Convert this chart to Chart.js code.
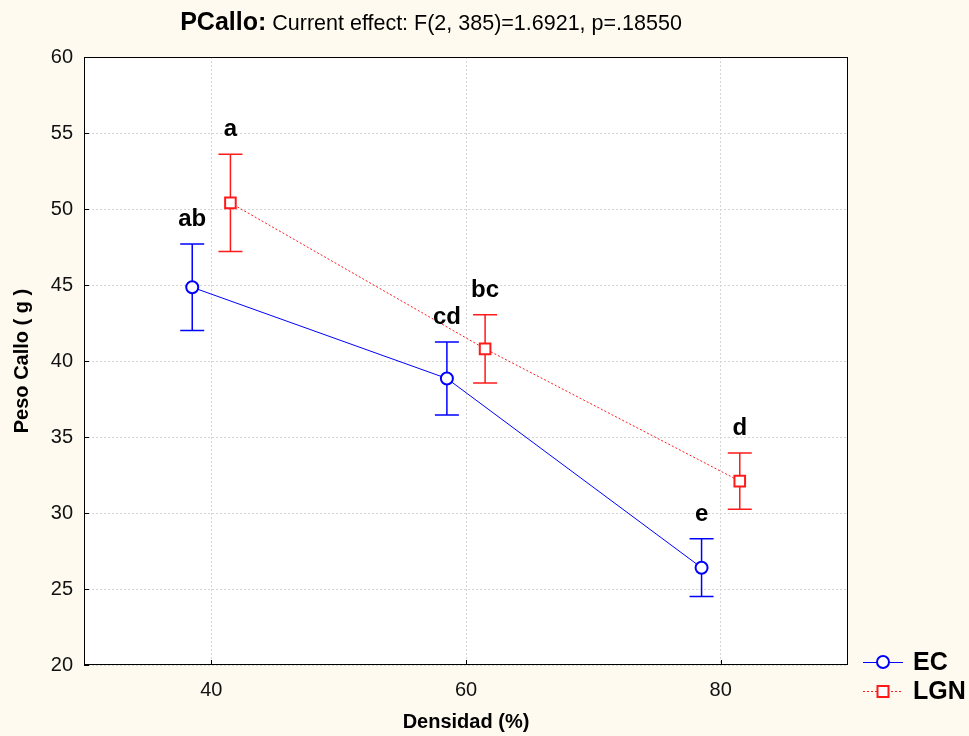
<!DOCTYPE html>
<html>
<head>
<meta charset="utf-8">
<title>PCallo</title>
<script src="https://cdn.jsdelivr.net/npm/chart.js@4.4.1/dist/chart.umd.min.js"></script>
<style>
  html, body { margin: 0; padding: 0; background: #fffaf0; }
  #wrap { width: 969px; height: 736px; }
</style>
</head>
<body>
<div id="wrap"><canvas id="chart" width="969" height="736"></canvas></div>
<script>
// Peso de callo por densidad, medias con barras de error
const densidad = [40, 60, 80];
const xTicks = [40, 60, 80];
const yTicks = [20, 25, 30, 35, 40, 45, 50, 55, 60];

const ecMean = [44.85, 38.85, 26.4];
const ecErr = [2.85, 2.4, 1.9];
const ecLetters = ['ab', 'cd', 'e'];

const lgnMean = [50.4, 40.8, 32.1];
const lgnErr = [3.2, 2.25, 1.85];
const lgnLetters = ['a', 'bc', 'd'];

const BG = '#fffaf0';
const BLUE = '#0000ff';
const RED = '#ff1a1a';
const SHIFT = 1.5; // horizontal separation of the two groups

const series = [
  { label: 'EC', mean: ecMean, err: ecErr, letters: ecLetters, color: BLUE, shift: -SHIFT },
  { label: 'LGN', mean: lgnMean, err: lgnErr, letters: lgnLetters, color: RED, shift: SHIFT }
];

const decor = {
  id: 'decor',
  beforeDraw(chart) {
    const { ctx, chartArea: a } = chart;
    ctx.save();
    ctx.fillStyle = BG;
    ctx.fillRect(0, 0, chart.width, chart.height);
    ctx.fillStyle = '#ffffff';
    ctx.fillRect(a.left, a.top, a.right - a.left, a.bottom - a.top);
    ctx.restore();
  },
  beforeDatasetsDraw(chart) {
    // error bars under the markers
    const { ctx, scales: { x, y } } = chart;
    ctx.save();
    ctx.lineWidth = 1.5;
    series.forEach(s => {
      ctx.strokeStyle = s.color;
      densidad.forEach((d, i) => {
        const px = x.getPixelForValue(d + s.shift);
        const top = y.getPixelForValue(s.mean[i] + s.err[i]);
        const bot = y.getPixelForValue(s.mean[i] - s.err[i]);
        ctx.beginPath();
        ctx.moveTo(px, top); ctx.lineTo(px, bot);
        ctx.moveTo(px - 12, top); ctx.lineTo(px + 12, top);
        ctx.moveTo(px - 12, bot); ctx.lineTo(px + 12, bot);
        ctx.stroke();
      });
    });
    ctx.restore();
  },
  afterDraw(chart) {
    const { ctx, chartArea: a, scales: { x, y } } = chart;
    ctx.save();

    // letters over each bar
    ctx.fillStyle = '#000';
    ctx.font = 'bold 24px "Liberation Sans", Arial, sans-serif';
    ctx.textAlign = 'center';
    ctx.textBaseline = 'alphabetic';
    series.forEach(s => {
      densidad.forEach((d, i) => {
        const px = x.getPixelForValue(d + s.shift);
        const top = y.getPixelForValue(s.mean[i] + s.err[i]);
        ctx.fillText(s.letters[i], px, top - 18);
      });
    });

    // frame and inner ticks
    ctx.strokeStyle = '#000';
    ctx.lineWidth = 1;
    ctx.strokeRect(a.left + 0.5, a.top + 0.5, a.right - a.left - 1, a.bottom - a.top - 1);
    ctx.beginPath();
    xTicks.forEach(v => {
      const px = Math.round(x.getPixelForValue(v)) + 0.5;
      ctx.moveTo(px, a.bottom); ctx.lineTo(px, a.bottom - 5);
    });
    yTicks.forEach(v => {
      const py = Math.round(y.getPixelForValue(v)) + 0.5;
      ctx.moveTo(a.left, py); ctx.lineTo(a.left + 5, py);
    });
    ctx.stroke();

    // title
    const head = 'PCallo:';
    const rest = ' Current effect: F(2, 385)=1.6921, p=.18550';
    ctx.textAlign = 'left';
    ctx.font = 'bold 25px "Liberation Sans", Arial, sans-serif';
    const w1 = ctx.measureText(head).width;
    ctx.font = '21.5px "Liberation Sans", Arial, sans-serif';
    const w2 = ctx.measureText(rest).width;
    const tx = 431 - (w1 + w2) / 2;
    ctx.font = 'bold 25px "Liberation Sans", Arial, sans-serif';
    ctx.fillText(head, tx, 30);
    ctx.font = '21.5px "Liberation Sans", Arial, sans-serif';
    ctx.fillText(rest, tx + w1, 30);

    // legend
    const lx = 863, rows = [662, 691];
    chart.data.datasets.forEach((ds, i) => {
      const ly = rows[i];
      ctx.strokeStyle = ds.borderColor;
      ctx.lineWidth = 1;
      ctx.setLineDash(ds.borderDash || []);
      ctx.beginPath();
      ctx.moveTo(lx, ly + 0.5); ctx.lineTo(lx + 40, ly + 0.5);
      ctx.stroke();
      ctx.setLineDash([]);
      ctx.fillStyle = '#fff';
      ctx.lineWidth = 2;
      ctx.beginPath();
      if (ds.pointStyle === 'rect') {
        ctx.rect(lx + 20 - 5.5, ly - 5, 11, 11);
      } else {
        ctx.arc(lx + 20, ly, 6, 0, Math.PI * 2);
      }
      ctx.fill();
      ctx.stroke();
      ctx.fillStyle = '#000';
      ctx.font = 'bold 25px "Liberation Sans", Arial, sans-serif';
      ctx.textBaseline = 'middle';
      ctx.fillText(ds.label, 913, ly + 1);
    });
    ctx.restore();
  }
};

new Chart(document.getElementById('chart'), {
  type: 'line',
  data: {
    datasets: series.map(s => ({
      label: s.label,
      data: densidad.map((d, i) => ({ x: d + s.shift, y: s.mean[i] })),
      borderColor: s.color,
      borderWidth: 1,
      borderDash: s.label === 'LGN' ? [2, 2] : [],
      pointStyle: s.label === 'LGN' ? 'rect' : 'circle',
      pointRadius: s.label === 'LGN' ? 7.5 : 6,
      pointBorderWidth: 2,
      pointBackgroundColor: '#ffffff',
      pointBorderColor: s.color,
      tension: 0,
      fill: false
    }))
  },
  options: {
    responsive: false,
    animation: false,
    events: [],
    layout: { padding: { top: 57, right: 121, left: 0, bottom: 0 } },
    plugins: { legend: { display: false }, tooltip: { enabled: false } },
    scales: {
      x: {
        type: 'linear',
        min: 30,
        max: 90,
        afterFit: scale => { scale.height = 71; },
        afterBuildTicks: scale => { scale.ticks = xTicks.map(v => ({ value: v })); },
        grid: { color: '#d4d4d4', drawTicks: false },
        border: { display: false, dash: [2, 2] },
        ticks: {
          padding: 13,
          color: '#111',
          font: { family: '"Liberation Sans", Arial, sans-serif', size: 20 }
        },
        title: {
          display: true,
          text: 'Densidad (%)',
          color: '#000',
          padding: { top: 0, bottom: 2 },
          font: { family: '"Liberation Sans", Arial, sans-serif', size: 20, weight: 'bold' }
        }
      },
      y: {
        min: 20,
        max: 60,
        afterFit: scale => { scale.width = 84; },
        afterBuildTicks: scale => { scale.ticks = yTicks.map(v => ({ value: v })); },
        grid: { color: '#d4d4d4', drawTicks: false },
        border: { display: false, dash: [2, 2] },
        ticks: {
          padding: 11,
          color: '#111',
          font: { family: '"Liberation Sans", Arial, sans-serif', size: 20 }
        },
        title: {
          display: true,
          text: 'Peso Callo ( g )',
          color: '#000',
          padding: { top: 10, bottom: 0 },
          font: { family: '"Liberation Sans", Arial, sans-serif', size: 20, weight: 'bold' }
        }
      }
    }
  },
  plugins: [decor]
});
</script>
</body>
</html>
